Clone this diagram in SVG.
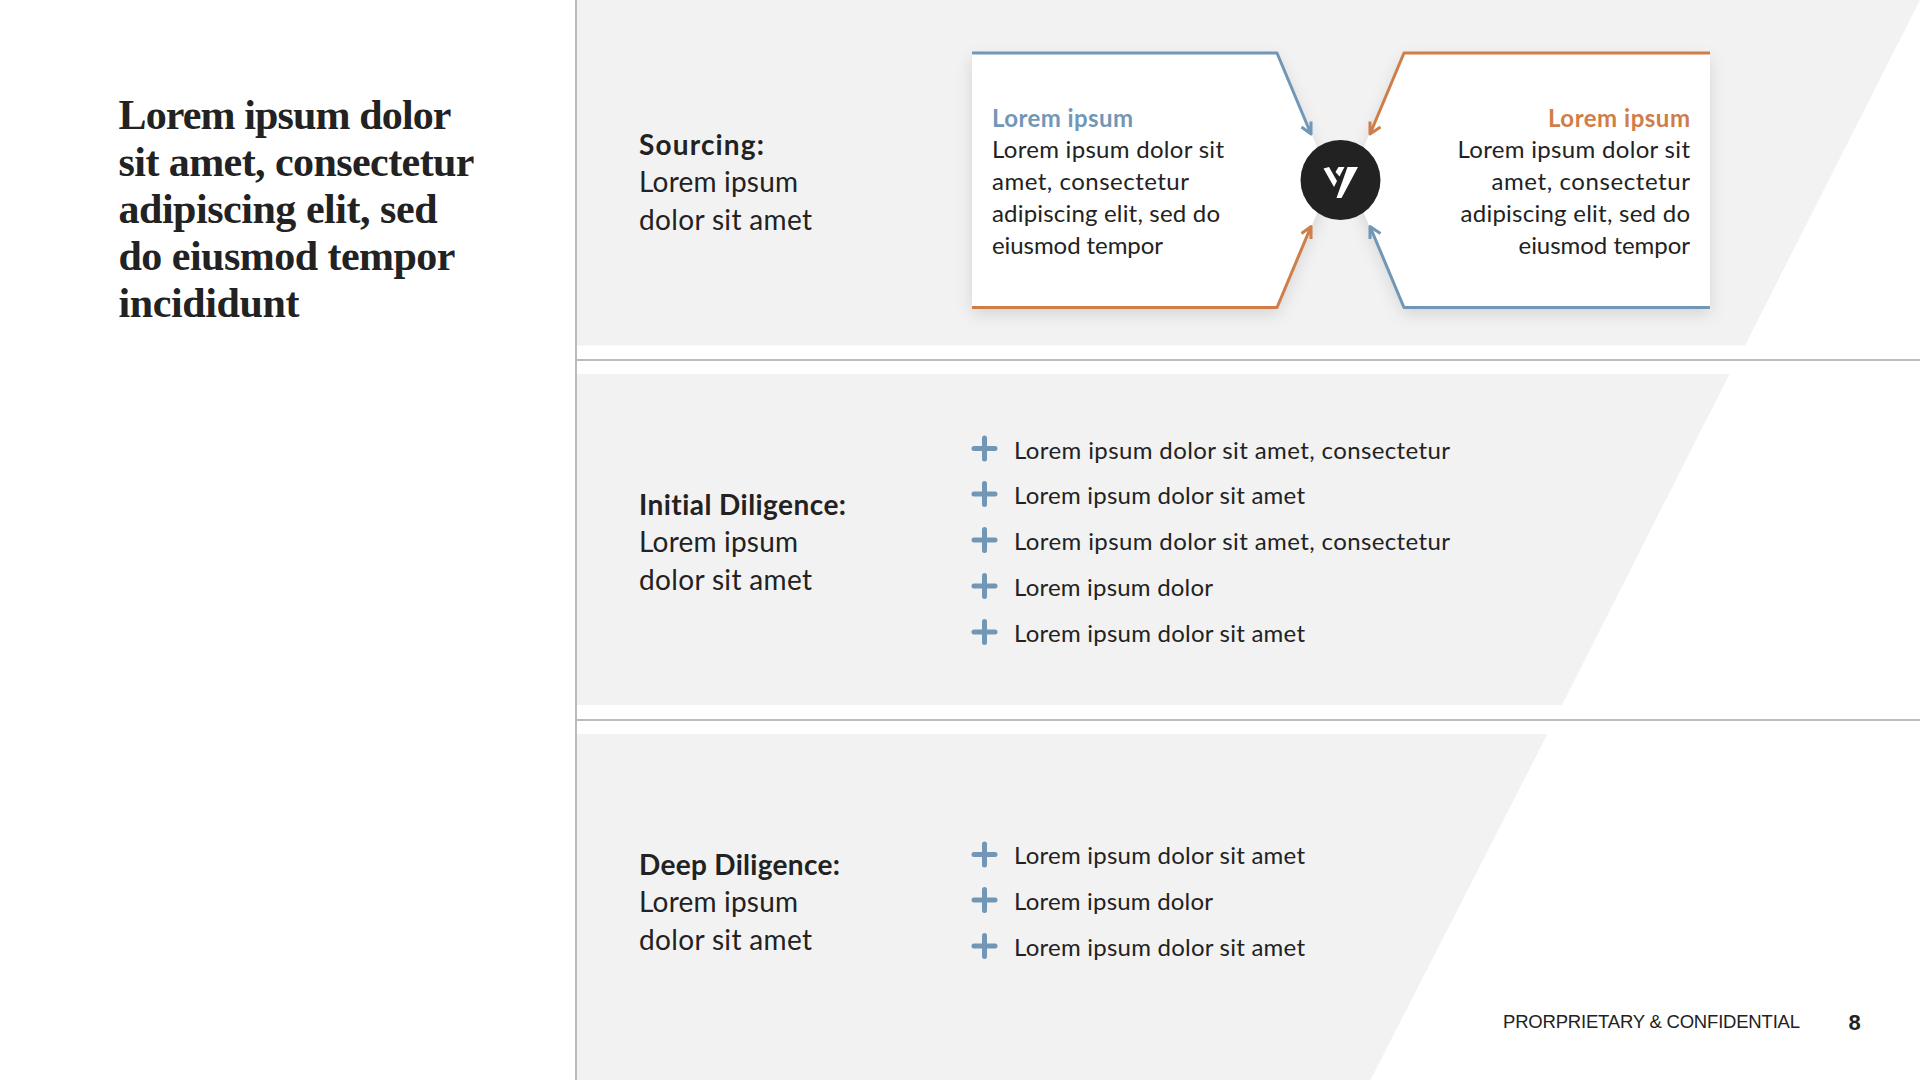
<svg xmlns="http://www.w3.org/2000/svg" width="1920" height="1080" viewBox="0 0 1920 1080">
<style>
text{font-family:"Lato","Noto Sans",sans-serif;fill:#222;font-variant-ligatures:none}
.h{font-family:"Liberation Serif",serif;font-weight:700;font-size:42px}
.lb{font-size:28px}
.b{font-weight:700}
.c{font-size:24px}
.li{font-size:24px}
.panel{fill:#f2f2f2}
.rule{stroke:#a6a6a6;stroke-width:1.5;fill:none}
.card{fill:#fff;filter:url(#sh)}
.blue{stroke:#7297b6;fill:none;stroke-width:3;stroke-linejoin:round;stroke-linecap:butt}
.org{stroke:#cf7d49;fill:none;stroke-width:3;stroke-linejoin:round;stroke-linecap:butt}
.plus{stroke:#7297b6;stroke-width:5;stroke-linecap:round;fill:none}
</style>
<defs>
<filter id="sh" x="-10%" y="-10%" width="120%" height="125%"><feDropShadow dx="0" dy="6" stdDeviation="8" flood-color="#000" flood-opacity="0.13"/></filter>
<path id="p" d="M-10.5 0H10.500M0-10.500V10.500"/>
</defs>
<rect width="1920" height="1080" fill="#fff"/>
<g id="panels">
<polygon class="panel" points="577,0 1920,0 1745,345.500 577,345.500"/>
<polygon class="panel" points="577,374 1729.500,374 1562,705 577,705"/>
<polygon class="panel" points="577,734 1547.500,734 1370.500,1080 577,1080"/>
</g>
<g id="rules">
<path class="rule" d="M576 0V1080M577 360H1920M577 720H1920"/>
</g>
<g id="title">
<text class="h" x="118.500" y="129" textLength="333">Lorem ipsum dolor</text>
<text class="h" x="118.500" y="176" textLength="356">sit amet, consectetur</text>
<text class="h" x="118.500" y="223" textLength="319">adipiscing elit, sed</text>
<text class="h" x="118.500" y="270" textLength="337">do eiusmod tempor</text>
<text class="h" x="118.500" y="317" textLength="181">incididunt</text>
</g>
<g id="label-sourcing">
<text class="lb b" x="639" y="155" textLength="125">Sourcing:</text>
<text class="lb" x="639" y="192" textLength="159">Lorem ipsum</text>
<text class="lb" x="639" y="230" textLength="173">dolor sit amet</text>
</g>
<g id="label-initial">
<text class="lb b" x="639" y="515" textLength="207">Initial Diligence:</text>
<text class="lb" x="639" y="552" textLength="159">Lorem ipsum</text>
<text class="lb" x="639" y="590" textLength="173">dolor sit amet</text>
</g>
<g id="label-deep">
<text class="lb b" x="639" y="875" textLength="201">Deep Diligence:</text>
<text class="lb" x="639" y="912" textLength="159">Lorem ipsum</text>
<text class="lb" x="639" y="950" textLength="173">dolor sit amet</text>
</g>
<g id="card-left">
<polygon class="card" points="972,53 1277,53 1331,180 1277,307.500 972,307.500"/>
<text class="c b" x="992" y="127" textLength="141" style="fill:#7297b6">Lorem ipsum</text>
<text class="c" x="992" y="158" textLength="232">Lorem ipsum dolor sit</text>
<text class="c" x="992" y="190" textLength="197">amet, consectetur</text>
<text class="c" x="992" y="222" textLength="228">adipiscing elit, sed do</text>
<text class="c" x="992" y="254" textLength="171">eiusmod tempor</text>
</g>
<g id="card-right">
<polygon class="card" points="1710,53 1404,53 1350,180 1404,307.500 1710,307.500"/>
<text class="c b" x="1548" y="127" textLength="142" style="fill:#cf7d49">Lorem ipsum</text>
<text class="c" x="1457.500" y="158" textLength="232.500">Lorem ipsum dolor sit</text>
<text class="c" x="1491.500" y="190" textLength="198.500">amet, consectetur</text>
<text class="c" x="1460.500" y="222" textLength="229.500">adipiscing elit, sed do</text>
<text class="c" x="1518.500" y="254" textLength="171.500">eiusmod tempor</text>
</g>
<g id="connectors">
<path class="blue" d="M972 53H1277L1311 134M1301.500 127L1311 134L1311 121.500"/>
<path class="org" d="M972 307.500H1277L1311 226.500M1301.500 233.500L1311 226.500L1311 239"/>
<path class="org" d="M1710 53H1404L1370 134M1380.500 127L1370 134L1370 121.500"/>
<path class="blue" d="M1710 307.500H1404L1370 226.500M1380.500 233.500L1370 226.500L1370 239"/>
</g>
<g id="hub">
<circle cx="1340.500" cy="180" r="40" fill="#222"/>
<polygon fill="#fff" points="1323.500,168.500 1329,167 1337,181 1334,187"/>
<polygon fill="#fff" points="1335.500,172 1338.500,167 1344.500,167 1339.500,176.500"/>
<polygon fill="#fff" points="1347.500,167 1358,167 1341.500,198 1336.500,198"/>
</g>
<g id="list-initial">
<use href="#p" class="plus" x="984.500" y="448.500"/><text class="li" x="1014" y="458.500" textLength="436">Lorem ipsum dolor sit amet, consectetur</text>
<use href="#p" class="plus" x="984.500" y="494"/><text class="li" x="1014" y="504" textLength="291">Lorem ipsum dolor sit amet</text>
<use href="#p" class="plus" x="984.500" y="540"/><text class="li" x="1014" y="550" textLength="436">Lorem ipsum dolor sit amet, consectetur</text>
<use href="#p" class="plus" x="984.500" y="586"/><text class="li" x="1014" y="596" textLength="199">Lorem ipsum dolor</text>
<use href="#p" class="plus" x="984.500" y="632"/><text class="li" x="1014" y="642" textLength="291">Lorem ipsum dolor sit amet</text>
</g>
<g id="list-deep">
<use href="#p" class="plus" x="984.500" y="854.500"/><text class="li" x="1014" y="864" textLength="291">Lorem ipsum dolor sit amet</text>
<use href="#p" class="plus" x="984.500" y="900"/><text class="li" x="1014" y="910" textLength="199">Lorem ipsum dolor</text>
<use href="#p" class="plus" x="984.500" y="946"/><text class="li" x="1014" y="956" textLength="291">Lorem ipsum dolor sit amet</text>
</g>
<g id="footer">
<text x="1503" y="1028" textLength="297" style="font-family:'Liberation Sans',sans-serif;font-size:18.500px">PRORPRIETARY &amp; CONFIDENTIAL</text>
<text x="1848.500" y="1030" style="font-family:'Liberation Sans',sans-serif;font-size:22px;font-weight:700">8</text>
</g>
</svg>
